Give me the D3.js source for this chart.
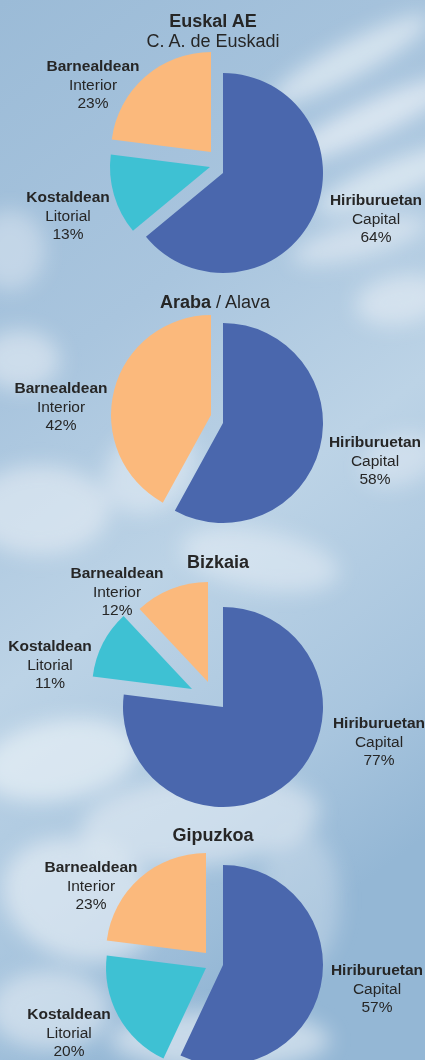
<!DOCTYPE html>
<head>
  <meta charset="utf-8">
  <style>
  body { margin: 0; background: #9dbdd8; }
  svg { display: block; }
  .lbl { font-family: Arial, "Liberation Sans", Helvetica, sans-serif; fill: #262626; }
  .lbl .b { font-weight: bold; }
  </style>
  <title>Euskal AE</title>
</head>
<body>
  <svg width="425" height="1060"></svg>
  <script src="https://d3js.org/d3.v7.min.js"></script>
  <script>
  // data
  var regions = ["Euskal AE", "Araba", "Bizkaia", "Gipuzkoa"];
  var subtitles = ["C. A. de Euskadi", " / Alava", "", ""];
  var categories = ["Hiriburuetan", "Kostaldean", "Barnealdean"];
  var catSub = ["Capital", "Litorial", "Interior"];
  var capital = [64, 58, 77, 57];
  var coastal = [13, 0, 11, 20];
  var interior = [23, 42, 12, 23];

  var colors = ["#4a67ad", "#3ec1d3", "#fbb97c"];

  // layout per chart (pie centre, explode offset per slice, text anchors)
  var layout = [
    {cx: 223, cy: 173, explode: [[0, 0], [-13, -6], [-12, -21]], title: [213, 27], sub: [213, 47],
     labels: [[376, 205], [68, 202], [93, 71]]},
    {cx: 223, cy: 423, explode: [[0, 0], [0, 0], [-12, -8]], title: [215, 308], sub: null,
     labels: [[375, 447], null, [61, 393]]},
    {cx: 223, cy: 707, explode: [[0, 0], [-31, -18], [-15, -25]], title: [218, 568], sub: null,
     labels: [[379, 728], [50, 651], [117, 578]]},
    {cx: 223, cy: 965, explode: [[0, 0], [-17, 3], [-17, -12]], title: [213, 841], sub: null,
     labels: [[377, 975], [69, 1019], [91, 872]]}
  ];

  var svg = d3.select("svg"),
      width = +svg.attr("width"),
      height = +svg.attr("height");

  // sky background
  var defs = svg.append("defs");
  var grad = defs.append("linearGradient").attr("id", "sky")
      .attr("x1", 0).attr("y1", 0).attr("x2", 0.3).attr("y2", 1);
  grad.append("stop").attr("offset", "0%").attr("stop-color", "#9bbbd7");
  grad.append("stop").attr("offset", "35%").attr("stop-color", "#a9c5de");
  grad.append("stop").attr("offset", "60%").attr("stop-color", "#bcd3e6");
  grad.append("stop").attr("offset", "85%").attr("stop-color", "#a8c5de");
  grad.append("stop").attr("offset", "100%").attr("stop-color", "#94b7d5");
  defs.append("filter").attr("id", "blur").attr("x", "-50%").attr("y", "-50%")
      .attr("width", "200%").attr("height", "200%")
    .append("feGaussianBlur").attr("stdDeviation", 10);

  svg.append("rect").attr("width", width).attr("height", height).attr("fill", "url(#sky)");

  var clouds = [
    [350, 60, 90, 18, -28, 0.6], [370, 120, 90, 18, -25, 0.65], [390, 180, 80, 18, -22, 0.6],
    [360, 240, 70, 18, -15, 0.5], [400, 300, 45, 25, -10, 0.5], [10, 250, 35, 40, 0, 0.4],
    [20, 360, 40, 30, 0, 0.5], [40, 510, 70, 45, 0, 0.5], [150, 470, 50, 40, -40, 0.45],
    [260, 560, 80, 30, 10, 0.45], [400, 460, 40, 25, -20, 0.4],
    [60, 760, 80, 40, -10, 0.6], [200, 820, 120, 45, -5, 0.5], [80, 900, 80, 60, 20, 0.55],
    [220, 1040, 110, 30, 0, 0.55], [50, 1010, 60, 40, 0, 0.5], [300, 900, 40, 70, 0, 0.3]
  ];
  svg.append("g").attr("filter", "url(#blur)")
    .selectAll("ellipse").data(clouds).enter().append("ellipse")
      .attr("cx", function(d) { return d[0]; })
      .attr("cy", function(d) { return d[1]; })
      .attr("rx", function(d) { return d[2]; })
      .attr("ry", function(d) { return d[3]; })
      .attr("transform", function(d) { return "rotate(" + d[4] + "," + d[0] + "," + d[1] + ")"; })
      .attr("fill", "#f2f6fa")
      .attr("opacity", function(d) { return d[5]; });

  var radius = 100;
  var pie = d3.pie().sort(null).value(function(d) { return d.value; });
  var arc = d3.arc().innerRadius(0).outerRadius(radius);

  regions.forEach(function(name, i) {
    var L = layout[i];
    var slices = [capital[i], coastal[i], interior[i]].map(function(v, k) {
      return {value: v, k: k};
    });
    var g = svg.append("g").attr("transform", "translate(" + L.cx + "," + L.cy + ")");

    g.selectAll("path")
      .data(pie(slices).filter(function(d) { return d.data.value > 0; }))
      .enter().append("path")
        .attr("d", arc)
        .attr("fill", function(d) { return colors[d.data.k]; })
        .attr("transform", function(d) {
          var e = L.explode[d.data.k];
          return "translate(" + e[0] + "," + e[1] + ")";
        });

    // title
    var t = svg.append("text").attr("class", "lbl")
        .attr("x", L.title[0]).attr("y", L.title[1])
        .attr("text-anchor", "middle").style("font-size", "18px");
    t.append("tspan").attr("class", "b").text(name);
    if (i === 1) t.append("tspan").text(subtitles[i]);
    if (L.sub) {
      svg.append("text").attr("class", "lbl")
        .attr("x", L.sub[0]).attr("y", L.sub[1])
        .attr("text-anchor", "middle").style("font-size", "18px")
        .text(subtitles[i]);
    }

    // slice labels
    slices.forEach(function(s, k) {
      if (!L.labels[k] || s.value === 0) return;
      var lt = svg.append("text").attr("class", "lbl")
          .attr("text-anchor", "middle").style("font-size", "15.5px");
      var lines = [categories[k], catSub[k], s.value + "%"];
      lines.forEach(function(line, j) {
        lt.append("tspan")
          .attr("class", j === 0 ? "b" : null)
          .attr("x", L.labels[k][0])
          .attr("y", L.labels[k][1] + j * 18.5)
          .text(line);
      });
    });
  });
  </script>
</body>
